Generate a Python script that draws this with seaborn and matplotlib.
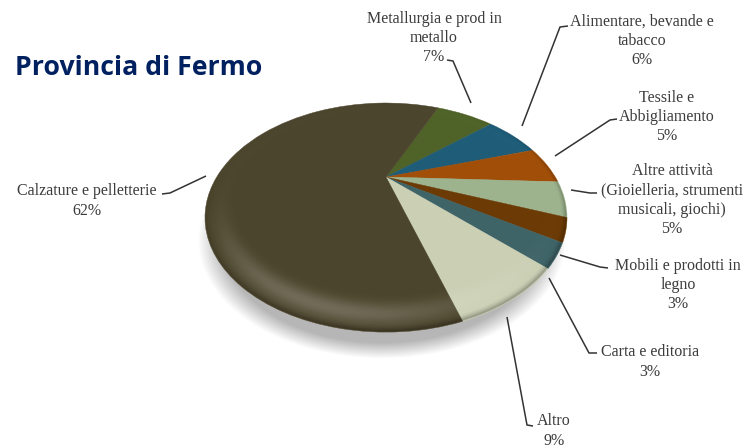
import numpy as np
import matplotlib
matplotlib.use("Agg")
import matplotlib.pyplot as plt
from matplotlib.path import Path
from matplotlib.transforms import Transform
import seaborn as sns

# data (order = clockwise from the Metallurgia slice)
categories = ["Metallurgia e prod in\nmetallo", "Alimentare, bevande e\ntabacco", "Tessile e\nAbbigliamento",
              "Altre attività\n(Gioielleria, strumenti\nmusicali, giochi)", "Mobili e prodotti in\nlegno",
              "Carta e editoria", "Altro", "Calzature e pelletterie"]
values = [7.1, 6.49, 5.49, 5.0, 3.2, 3.2, 8.0, 61.5]
pct_labels = ["7%", "6%", "5%", "5%", "3%", "3%", "9%", "62%"]
slice_colors = ["#4f6228", "#1f5c78", "#a04e08", "#9db38d", "#6c3a04", "#3f6468", "#cbd0b5", "#4c452d"]

# pie position in pixels, tilt of the 3d look
cx, cy = 386, 177
a, b, k = 169.3, 100.2, 0.354
start = 24


class Tilt(Transform):
    input_dims = 2
    output_dims = 2

    def transform_non_affine(self, values):
        v = np.asarray(values, dtype=float)
        w = 1 + k * v[:, 1]
        return np.column_stack([cx + a * v[:, 0] / w, cy - b * v[:, 1] / w])

    def transform_path_non_affine(self, path):
        return Path(self.transform_non_affine(path.vertices), path.codes)


sns.set_theme(style="white")
fig = plt.figure(figsize=(7.46, 4.48), dpi=100)
ax = fig.add_axes([0, 0, 1, 1])

# soft shadow under the disc
xx, yy = np.meshgrid(np.arange(746) + 0.5, np.arange(448) + 0.5)
d = np.hypot((xx - 382) / 177, (yy - 240) / 114)
shadow = np.zeros((448, 746, 4))
shadow[..., :3] = 0.45
shadow[..., 3] = 0.52 * np.clip((1.04 - d) / 0.14, 0, 1)
ax.imshow(shadow, extent=(0, 746, 448, 0), zorder=1)

wedges, _ = ax.pie(values, colors=sns.color_palette(slice_colors), startangle=90 - start,
                   counterclock=False, radius=1,
                   wedgeprops=dict(linewidth=0.3, zorder=2))
tilt = Tilt()
for w in wedges:
    w.set_edgecolor(w.get_facecolor())
    w.set_transform(tilt + ax.transData)

# bevel: light band low on the rim, dark at the very edge
Yp = cy - yy
Xp = xx - cx
py = Yp / (b - k * Yp)
px = Xp * (1 + k * py) / a
r = np.hypot(px, py)
inside = np.clip((1.0 - r) * 150, 0, 1)
lit = np.clip((-0.3 * px - 0.95 * py) / np.maximum(r, 1e-6), 0, 1)
lower = np.clip((0.3 * px - 0.6 * py) / np.maximum(r, 1e-6) + 0.35, 0, 1)
glow = np.zeros((448, 746, 4))
glow[..., :3] = 1.0
glow[..., 3] = np.exp(-((r - 0.92) / 0.05) ** 2) * (0.01 + 0.2 * lit ** 4) * inside
ax.imshow(glow, extent=(0, 746, 448, 0), zorder=3, interpolation="bilinear")
edge = np.zeros((448, 746, 4))
edge[..., 3] = np.clip((r - 0.965) / 0.035, 0, 1) ** 2 * 0.4 * lower * inside
ax.imshow(edge, extent=(0, 746, 448, 0), zorder=3, interpolation="bilinear")

ax.set_xlim(0, 746)
ax.set_ylim(448, 0)
ax.axis("off")

# leader lines and label spots
leaders = [
    [(447, 60), (453, 61), (471, 103)],
    [(568, 26), (560, 27), (522, 126)],
    [(617, 119), (610, 120), (555, 156)],
    [(597, 193), (590, 193), (571, 190)],
    [(608, 268), (600, 267), (560, 255)],
    [(597, 353), (589, 353), (549, 278)],
    [(533, 426), (527, 425), (507, 317)],
    [(162, 194), (170, 193), (206, 176)],
]
spots = [(434, 38), (642, 41), (667, 117), (672, 200), (678, 285), (650, 362), (554, 431), (87, 201)]

for cat, pct, line, (x, y) in zip(categories, pct_labels, leaders, spots):
    ax.plot(*zip(*line), color="#333333", lw=1.1, zorder=4, solid_capstyle="butt")
    ax.text(x, y, cat + "\n" + pct, ha="center", va="center", fontsize=11.5,
            family="Liberation Serif", color="#3c3c3c", linespacing=1.27, zorder=5)

ax.text(15, 68, "Provincia di Fermo", ha="left", va="center", fontsize=19.2,
        fontweight="bold", family="Open Sans", color="#002060")

fig.savefig("out.png", dpi=100)
